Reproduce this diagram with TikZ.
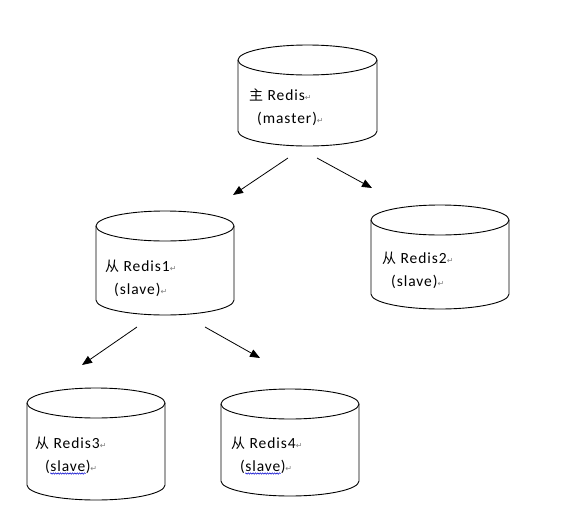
\documentclass[tikz,border=0pt]{standalone}
\usepackage{fontspec}
\setmainfont[LetterSpace=6]{Carlito}
\newfontfamily\cjk{Noto Sans CJK SC}
\newfontfamily\symf{DejaVu Sans}
\usetikzlibrary{arrows.meta,decorations.pathmorphing}
\newcommand\retmark{{\symf\fontsize{8}{8}\selectfont\textcolor{gray}{↵}}}
\newcommand\cj[1]{{\cjk\fontsize{14}{16}\selectfont #1}}
\tikzset{
  cylline/.style={draw=black, line width=0.9pt},
  arr/.style={draw=black, line width=0.8pt, -{Triangle[length=10pt,width=8pt]}},
  txt/.style={anchor=base west, inner sep=0pt, font=\fontsize{15.5}{17}\selectfont},
  wavy/.style={draw=blue!80!black, line width=0.5pt, decorate, decoration={snake, amplitude=0.7pt, segment length=2.4pt}}
}
\newcommand\cyl[4]{% left top right bottom
  \pgfmathsetmacro\cxa{(#1+#3)/2}%
  \pgfmathsetmacro\rxa{(#3-#1)/2}%
  \pgfmathsetmacro\kx{0.5523*\rxa}%
  \draw[cylline] (\cxa,#2+15) ellipse [x radius=\rxa, y radius=15];
  \draw[cylline] (#1,#2+15) -- (#1,#4-15) .. controls (#1,#4-6.7) and (\cxa-\kx,#4) .. (\cxa,#4) .. controls (\cxa+\kx,#4) and (#3,#4-6.7) .. (#3,#4-15) -- (#3,#2+15);
}
\begin{document}
\begin{tikzpicture}[x=1pt,y=-1pt]
\useasboundingbox (0,0) rectangle (571,504);
% cylinders
\cyl{238}{45}{377}{146}
\cyl{96}{211}{234}{315}
\cyl{371}{205}{509}{309}
\cyl{27}{388}{165}{500}
\cyl{221}{389}{359}{496}
% texts
\node[txt] (m1) at (249,100) {\cj{主} Redis\retmark};
\node[txt] (m2) at (257,123) {(master)\retmark};
\node[txt] (s1a) at (105,271) {\cj{从} Redis1\retmark};
\node[txt] (s1b) at (114,294) {(slave)\retmark};
\node[txt] (s2a) at (382,263) {\cj{从} Redis2\retmark};
\node[txt] (s2b) at (391,286) {(slave)\retmark};
\node[txt] (s3a) at (35,448) {\cj{从} Redis3\retmark};
\node[txt] (s3p) at (45,471) {(};
\node[txt] (s3s) at (s3p.base east) {slave};
\node[txt] (s3q) at (s3s.base east) {)\retmark};
\node[txt] (s4a) at (231,448) {\cj{从} Redis4\retmark};
\node[txt] (s4p) at (240,471) {(};
\node[txt] (s4s) at (s4p.base east) {slave};
\node[txt] (s4q) at (s4s.base east) {)\retmark};
\coordinate (w3a) at ([yshift=-2.5pt]s3s.base west);
\coordinate (w3b) at ([yshift=-2.5pt]s3s.base east);
\coordinate (w4a) at ([yshift=-2.5pt]s4s.base west);
\coordinate (w4b) at ([yshift=-2.5pt]s4s.base east);
\draw[wavy] (w3a) -- (w3b);
\draw[wavy] (w4a) -- (w4b);
% arrows
\coordinate (a1s) at (288,158); \coordinate (a1e) at (233,195);
\coordinate (a2s) at (317,158); \coordinate (a2e) at (372,188);
\coordinate (a3s) at (137,327); \coordinate (a3e) at (82,365);
\coordinate (a4s) at (205,327); \coordinate (a4e) at (260,358);
\draw[arr] (a1s) -- (a1e);
\draw[arr] (a2s) -- (a2e);
\draw[arr] (a3s) -- (a3e);
\draw[arr] (a4s) -- (a4e);
\end{tikzpicture}
\end{document}
